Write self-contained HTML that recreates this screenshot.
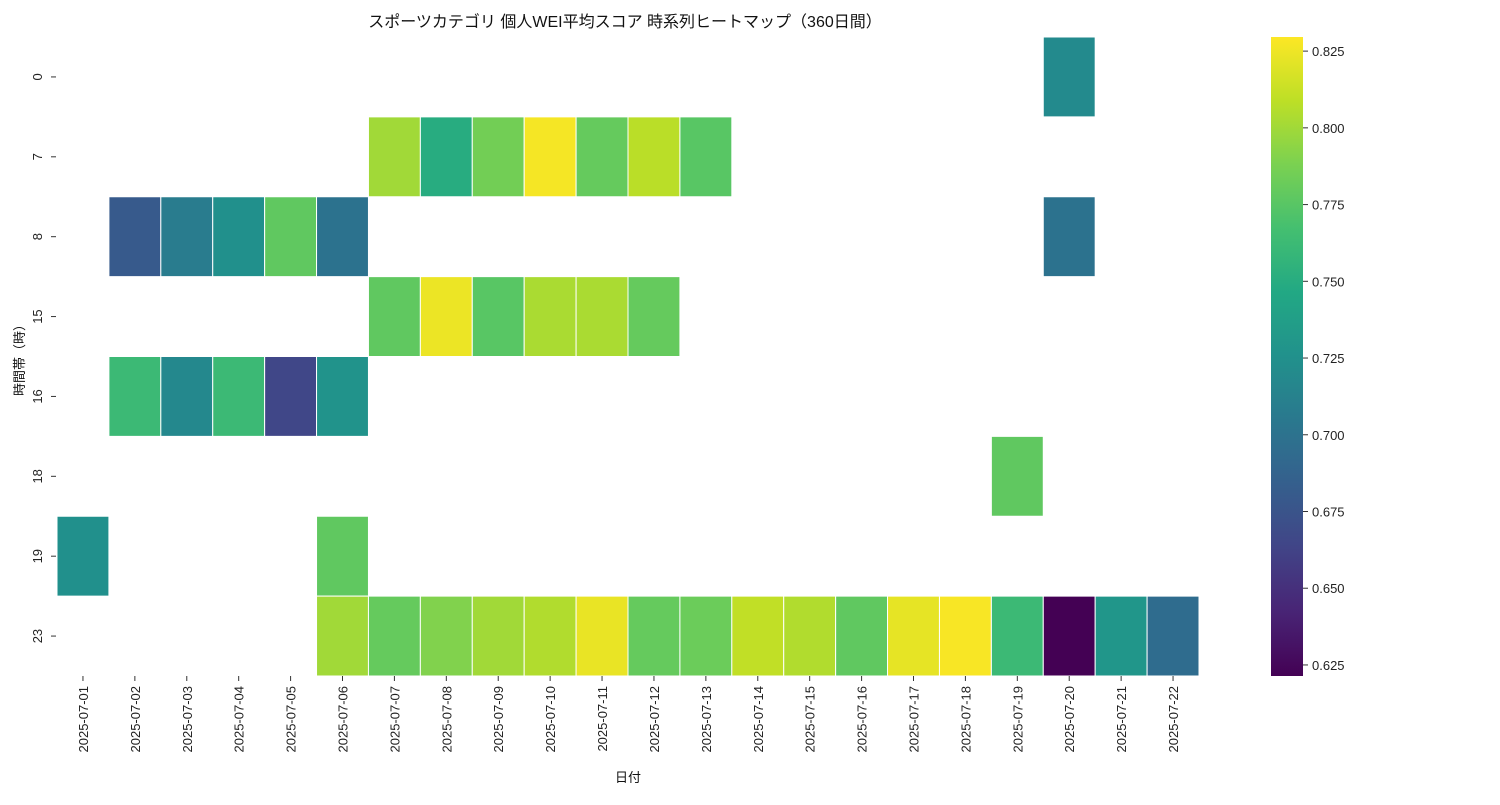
<!DOCTYPE html>
<html><head><meta charset="utf-8"><style>
body{margin:0;background:#fff;}
svg{font-family:"Liberation Sans","Noto Sans CJK JP",sans-serif;}
</style></head><body>
<svg id="chart" width="1500" height="800"></svg>
<script>
const dates=["2025-07-01","2025-07-02","2025-07-03","2025-07-04","2025-07-05","2025-07-06","2025-07-07","2025-07-08","2025-07-09","2025-07-10","2025-07-11","2025-07-12","2025-07-13","2025-07-14","2025-07-15","2025-07-16","2025-07-17","2025-07-18","2025-07-19","2025-07-20","2025-07-21","2025-07-22"];
const hours=["0","7","8","15","16","18","19","23"];
const N=null;
const row0=[N,N,N,N,N,N,N,N,N,N,N,N,N,N,N,N,N,N,N,0.720,N,N];
const row7=[N,N,N,N,N,N,0.800,0.750,0.785,0.827,0.780,0.808,0.775,N,N,N,N,N,N,N,N,N];
const row8=[N,0.680,0.708,0.725,0.778,0.700,N,N,N,N,N,N,N,N,N,N,N,N,N,0.700,N,N];
const row15=[N,N,N,N,N,N,0.778,0.824,0.775,0.803,0.803,0.780,N,N,N,N,N,N,N,N,N,N];
const row16=[N,0.762,0.718,0.762,0.665,0.727,N,N,N,N,N,N,N,N,N,N,N,N,N,N,N,N];
const row18=[N,N,N,N,N,N,N,N,N,N,N,N,N,N,N,N,N,N,0.778,N,N,N];
const row19=[0.725,N,N,N,N,0.778,N,N,N,N,N,N,N,N,N,N,N,N,N,N,N,N];
const row23=[N,N,N,N,N,0.800,0.780,0.790,0.800,0.805,0.823,0.780,0.782,0.810,0.805,0.778,0.822,0.828,0.762,0.6214,0.730,0.695];
const values=[row0,row7,row8,row15,row16,row18,row19,row23];
const cbTicks=[0.625,0.650,0.675,0.700,0.725,0.750,0.775,0.800,0.825];
const vmin=0.6214,vmax=0.8296;

const stops=["#440154","#482475","#414487","#355f8d","#2a788e","#21918c","#22a884","#44bf70","#7ad151","#bddf26","#fde725"];
function hex(h){return [1,3,5].map(i=>parseInt(h.substr(i,2),16));}
function viridis(t){t=Math.max(0,Math.min(1,t));const p=t*10,i=Math.min(9,Math.floor(p)),f=p-i;const a=hex(stops[i]),b=hex(stops[i+1]);return "rgb("+a.map((v,k)=>Math.round(v+(b[k]-v)*f)).join(",")+")";}
const X0=57,X1=1199,Y0=37,Y1=676;
const cw=(X1-X0)/dates.length, rh=(Y1-Y0)/hours.length;
const xs=i=>X0+i*cw, ys=j=>Y0+j*rh;
const svg=document.getElementById('chart');
const NS="http://www.w3.org/2000/svg";
function el(t,a,p){const e=document.createElementNS(NS,t);for(const k in a)e.setAttribute(k,a[k]);(p||svg).appendChild(e);return e;}
const gc=el('g',{});


values.forEach((r,j)=>r.forEach((v,i)=>{if(v===null)return;
 const c=el('rect',{x:xs(i),y:ys(j),width:cw,height:rh,fill:viridis((v-vmin)/(vmax-vmin)),stroke:'#fff','stroke-width':1},gc);
 
 }));
hours.forEach((h,j)=>{const y=ys(j)+rh/2;
 el('line',{x1:51,x2:56,y1:y,y2:y,stroke:'#333'});
 const t=el('text',{x:0,y:0,transform:`translate(42,${y}) rotate(-90)`,'text-anchor':'middle','font-size':13,fill:'#222'});t.textContent=h;
 
 });
dates.forEach((d,i)=>{const x=xs(i)+cw/2;
 el('line',{x1:x,x2:x,y1:676,y2:681,stroke:'#333'});
 const t=el('text',{x:0,y:0,transform:`translate(${x+5},686) rotate(-90)`,'text-anchor':'end','font-size':13,fill:'#222'});t.textContent=d;
 
 });
// colorbar
const CX=1271,CW=32;
const defs=el('defs',{});const lg=el('linearGradient',{id:'cg',x1:0,y1:1,x2:0,y2:0},defs);
for(let k=0;k<=20;k++)el('stop',{offset:k/20,'stop-color':viridis(k/20)},lg);
const cb=el('rect',{x:CX,y:Y0,width:CW,height:Y1-Y0,fill:'url(#cg)'});


cbTicks.forEach(v=>{const y=Y1-(v-vmin)/(vmax-vmin)*(Y1-Y0);
 el('line',{x1:CX+CW,x2:CX+CW+5,y1:y,y2:y,stroke:'#333'});
 const t=el('text',{x:CX+CW+9,y:y+5,'font-size':13,fill:'#222'});t.textContent=v.toFixed(3);
 
 });
const ti=el('text',{x:625,y:27,'text-anchor':'middle','font-size':16,fill:'#111'});ti.textContent="スポーツカテゴリ 個人WEI平均スコア 時系列ヒートマップ（360日間）";

const xl=el('text',{x:628,y:782,'text-anchor':'middle','font-size':13,fill:'#111'});xl.textContent="日付";

const yl=el('text',{x:0,y:0,transform:'translate(24,357) rotate(-90)','text-anchor':'middle','font-size':13,fill:'#111'});yl.textContent="時間帯（時）";

</script>
</body></html>
